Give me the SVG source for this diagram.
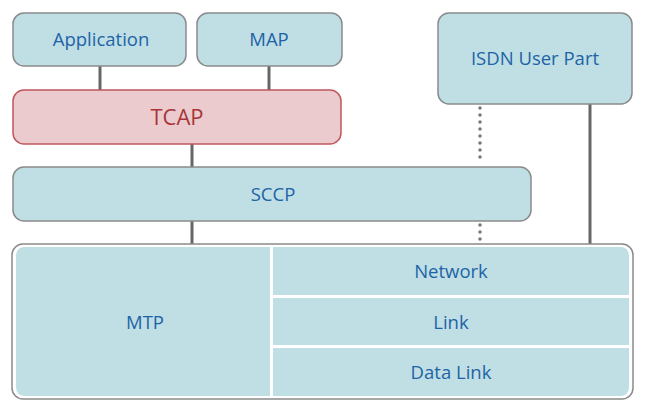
<svg xmlns="http://www.w3.org/2000/svg" width="652" height="417" viewBox="0 0 652 417">
<style>
.box{fill:#bfdfe5;stroke:#8a8a8a;stroke-width:1.5}
.red{fill:#ebcbcd;stroke:#c0575d;stroke-width:1.5}
.cell{fill:#bfdfe5}
.t{font-family:"Open Sans","Liberation Sans",sans-serif;font-size:18.5px;fill:#1e63a6;text-anchor:middle;dominant-baseline:central}
.tr{fill:#a8353a;font-size:22px}
.c{stroke:#666;stroke-width:3;fill:none}
.d{stroke:#777;stroke-width:3.5;fill:none;stroke-linecap:round;stroke-dasharray:0 7}
</style>
<rect width="652" height="417" fill="#fff"/>
<g id="connectors">
<line class="c" x1="100" y1="66" x2="100" y2="90"/>
<line class="c" x1="269" y1="66" x2="269" y2="90"/>
<line class="c" x1="192" y1="144" x2="192" y2="167"/>
<line class="c" x1="192" y1="221" x2="192" y2="244"/>
<line class="c" x1="590" y1="104" x2="590" y2="244"/>
<line class="d" x1="480" y1="108" x2="480" y2="164"/>
<line class="d" x1="480" y1="225" x2="480" y2="242"/>
</g>
<g id="application">
<rect class="box" x="13" y="13" width="173" height="53" rx="11"/>
<text class="t" x="101" y="38">Application</text>
</g>
<g id="map">
<rect class="box" x="197" y="13" width="145" height="53" rx="11"/>
<text class="t" x="269" y="38">MAP</text>
</g>
<g id="isdn">
<rect class="box" x="438" y="13" width="194" height="91" rx="11"/>
<text class="t" x="535" y="57">ISDN User Part</text>
</g>
<g id="tcap">
<rect class="red" x="13" y="90" width="328" height="54" rx="11"/>
<text class="t tr" x="177" y="116">TCAP</text>
</g>
<g id="sccp">
<rect class="box" x="13" y="167" width="518" height="54" rx="11"/>
<text class="t" x="273" y="193">SCCP</text>
</g>
<g id="mtp">
<rect x="12" y="244" width="621" height="155" rx="11" fill="#fff" stroke="#8a8a8a" stroke-width="1.5"/>
<path class="cell" d="M25,247 H270 V396 H25 Q16,396 16,387 V256 Q16,247 25,247 Z"/>
<text class="t" x="145" y="321">MTP</text>
</g>
<g id="network">
<path class="cell" d="M273,247 H620 Q629,247 629,256 V295 H273 Z"/>
<text class="t" x="451" y="270">Network</text>
</g>
<g id="link">
<rect class="cell" x="273" y="298" width="356" height="47"/>
<text class="t" x="451" y="321">Link</text>
</g>
<g id="datalink">
<path class="cell" d="M273,348 H629 V387 Q629,396 620,396 H273 Z"/>
<text class="t" x="451" y="371">Data Link</text>
</g>
</svg>
